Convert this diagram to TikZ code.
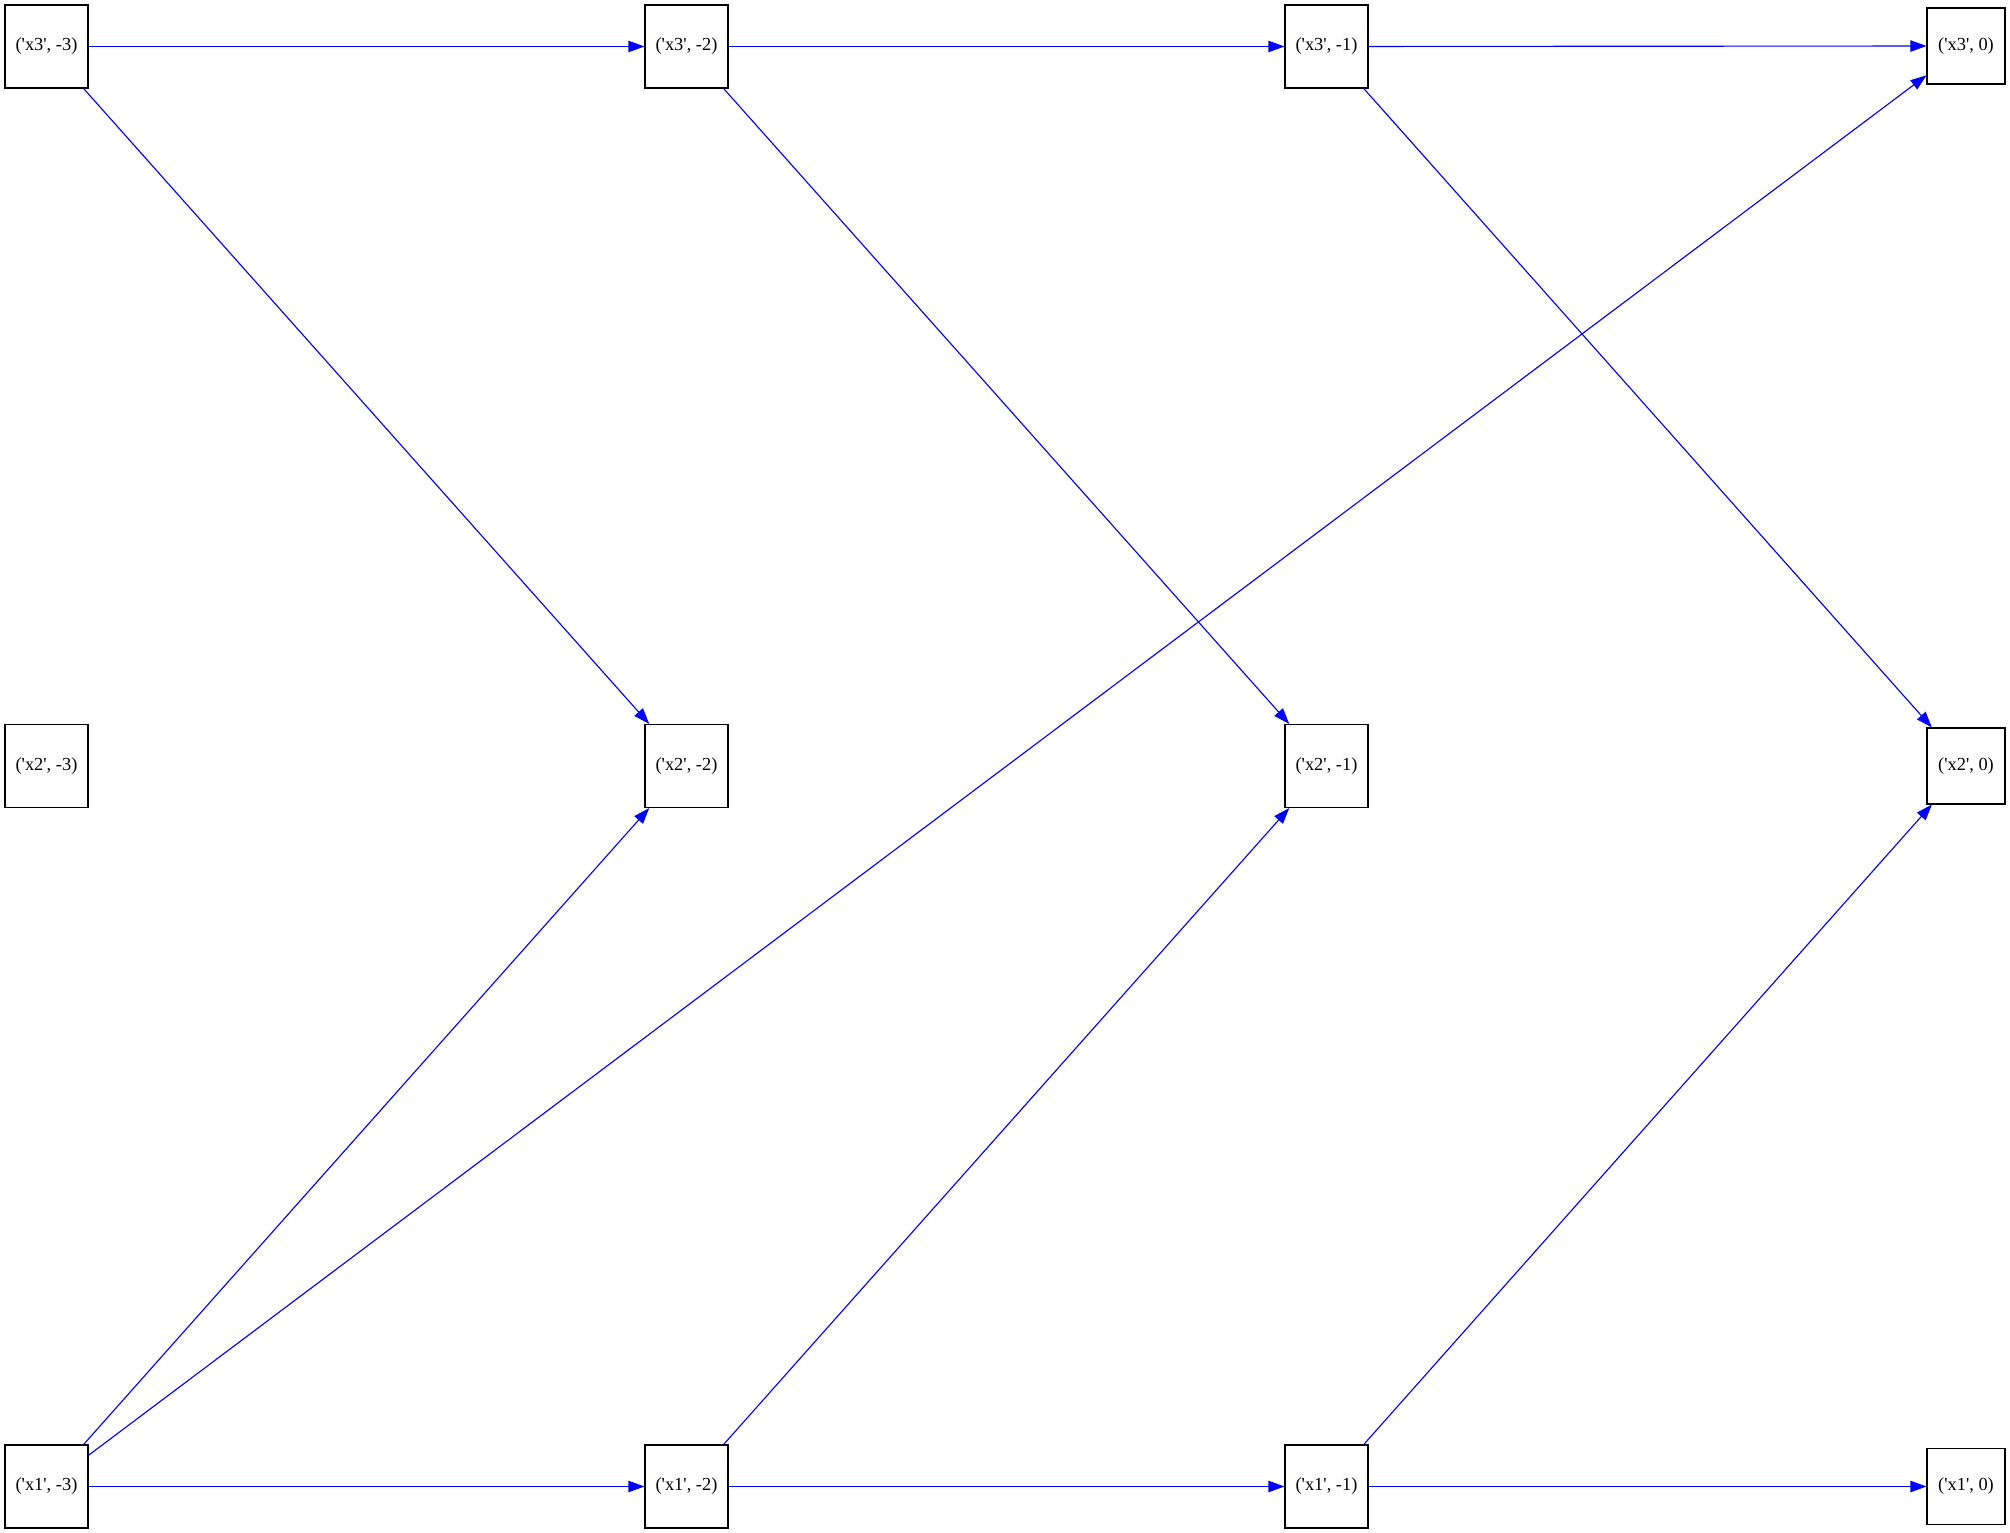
\documentclass[tikz,border=0pt]{standalone}
\usepackage{fontspec}
\setmainfont{Liberation Serif}
\usetikzlibrary{arrows.meta}
\newcommand{\q}{\textquotesingle}
\begin{document}
\begin{tikzpicture}[x=0.75pt,y=-0.75pt,
  box/.style={draw=black,line width=0.8pt,minimum width=62.25pt,minimum height=62.25pt,inner sep=0pt,font=\fontsize{13.8}{16}\selectfont},
  sbox/.style={box,minimum width=58.5pt,minimum height=57pt},
  edge/.style={draw=blue,line width=0.85pt,-{Triangle[length=12pt,width=8.5pt]}}]
\useasboundingbox (0,0) rectangle (2010,1533);
\node[box] (a3) at (46.5,46.5) {(\q x3\q, -3)};
\node[box] (b3) at (686.5,46.5) {(\q x3\q, -2)};
\node[box] (c3) at (1326.5,46.5) {(\q x3\q, -1)};
\node[sbox] (d3) at (1966,46) {(\q x3\q, 0)};
\node[box] (a2) at (46.5,766) {(\q x2\q, -3)};
\node[box] (b2) at (686.5,766) {(\q x2\q, -2)};
\node[box] (c2) at (1326.5,766) {(\q x2\q, -1)};
\node[sbox] (d2) at (1966,766) {(\q x2\q, 0)};
\node[box] (a1) at (46.5,1486.5) {(\q x1\q, -3)};
\node[box] (b1) at (686.5,1486.5) {(\q x1\q, -2)};
\node[box] (c1) at (1326.5,1486.5) {(\q x1\q, -1)};
\node[sbox] (d1) at (1966,1486.5) {(\q x1\q, 0)};
\draw[edge] (a3) -- (b3);
\draw[edge] (a3) -- (b2);
\draw[edge] (b3) -- (c3);
\draw[edge] (b3) -- (c2);
\draw[edge] (c3) -- (d3);
\draw[edge] (c3) -- (d2);
\draw[edge] (a1) -- (b2);
\draw[edge] (a1) -- (d3);
\draw[edge] (a1) -- (b1);
\draw[edge] (b1) -- (c2);
\draw[edge] (b1) -- (c1);
\draw[edge] (c1) -- (d2);
\draw[edge] (c1) -- (d1);
\end{tikzpicture}
\end{document}
